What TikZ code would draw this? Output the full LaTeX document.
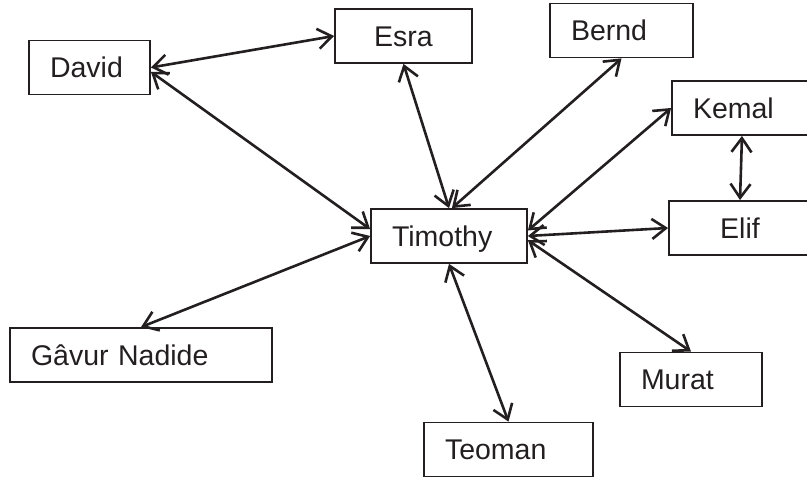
\documentclass[tikz,border=0pt]{standalone}
\usepackage{fontspec}
\setmainfont{Liberation Sans}
\usepackage{tikz}
\usetikzlibrary{arrows.meta,positioning,calc}
\definecolor{ink}{RGB}{35,31,32}

\begin{document}
\begin{tikzpicture}[x=1pt, y=1pt,
    person/.style={draw=ink, line width=1.8pt, text=ink, minimum height=54pt,
        inner xsep=21pt, inner ysep=0pt, text height=20.4pt, text depth=0pt,
        align=left, text width=#1, font=\fontsize{28.5}{34}\selectfont},
    mid/.style={align=center},
    link/.style={<->, draw=ink, line width=2.6pt,
        >={Straight Barb[length=14pt,width=20pt]}}]
    \useasboundingbox (0,0) rectangle (807,479);

    % People
    \node[person=114pt] (tim) at (449,243) {Timothy};
    \node[person=79pt] (david) at (89.5,411.5) {David};
    \node[person=95pt, mid] (esra) at (403.5,443) {Esra};
    \node[person=101pt] (bernd) at (621.5,448.5) {Bernd};
    \node[person=98pt] (kemal) at (742,371) {Kemal};
    \node[person=100pt, mid] (elif) at (740,251) {Elif};
    \node[person=220pt] (gavur) at (141,124) {Gâvur Nadide};
    \node[person=100pt] (murat) at (691,99.5) {Murat};
    \node[person=127pt] (teoman) at (508.5,29.5) {Teoman};

    % Links between people
    \draw[link] (david.east) -- (esra.west);
    \draw[link] (kemal.south) -- (elif.north);

    % Links to Timothy
    \foreach \a/\b in {david.-4/tim.175, esra.south/tim.north, bernd.south/tim.84,
        kemal.west/tim.4, elif.west/tim.east, murat.north/tim.-3,
        gavur.north/tim.west, teoman.north/tim.south} {
        \draw[link] (\a) -- (\b);
    }
\end{tikzpicture}
\end{document}
